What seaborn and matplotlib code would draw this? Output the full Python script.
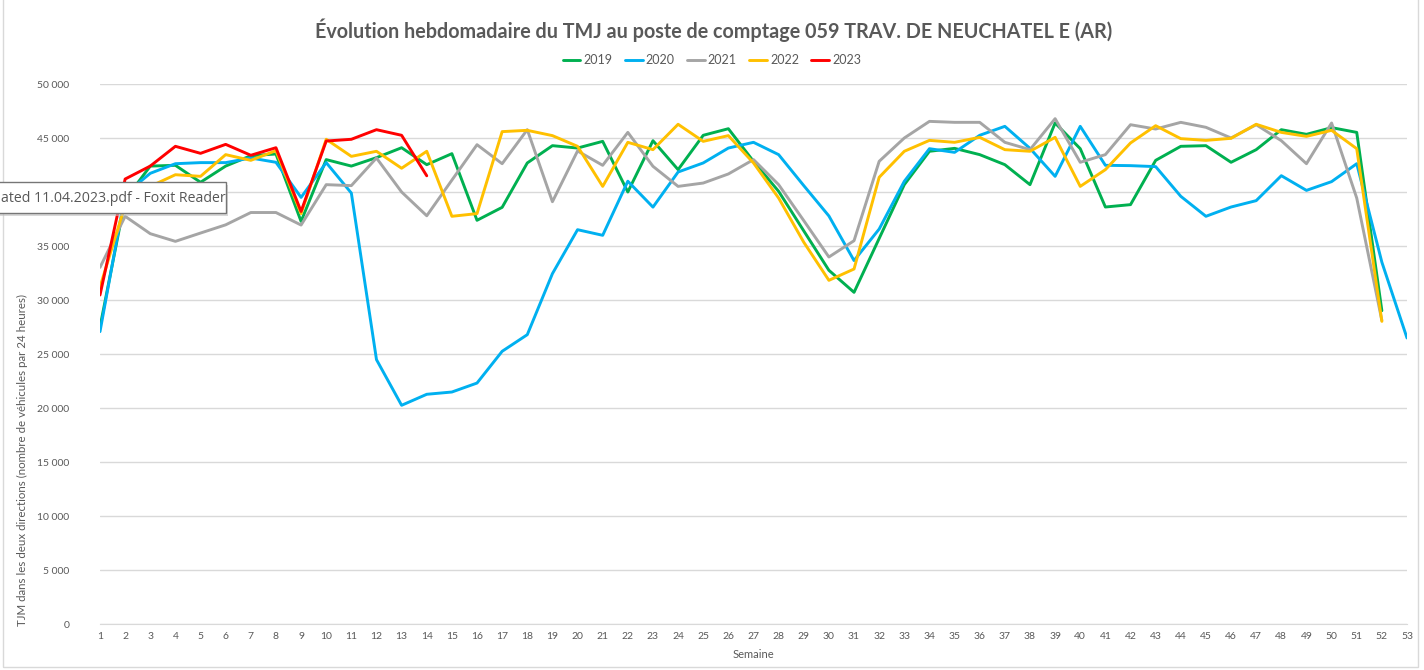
import matplotlib
matplotlib.use("Agg")
import matplotlib.pyplot as plt
from matplotlib.patches import Rectangle
from matplotlib.ticker import FuncFormatter, MultipleLocator
from matplotlib.lines import Line2D
import numpy as np, pandas as pd
import seaborn as sns

TITLE = "Évolution hebdomadaire du TMJ au poste de comptage 059 TRAV. DE NEUCHATEL E (AR)"
YLABEL = "TJM dans les deux directions (nombre de véhicules par 24 heures)"
XLABEL = "Semaine"

years = ["2019", "2020", "2021", "2022", "2023"]
colors = ["#00B050", "#00B0F0", "#A5A5A5", "#FFC000", "#FF0000"]

y2019 = [27500, 39300, 42400, 42470, 40900, 42400, 43360, 43520, 37280, 43000,
         42400, 43180, 44100, 42530, 43550, 37380, 38580, 42690, 44290, 44070,
         44690, 40000, 44750, 42070, 45250, 45860, 42840, 40060, 36400, 32750,
         30710, 35700, 40680, 43770, 44040, 43460, 42530, 40680, 46390, 44010,
         38610, 38830, 42930, 44230, 44290, 42750, 43920, 45770, 45340, 45960,
         45520, 29010]
y2020 = [27070, 39800, 41730, 42620, 42720, 42720, 43150, 42750, 39500, 42720,
         39900, 24480, 20250, 21270, 21480, 22310, 25250, 26790, 32440, 36510,
         35990, 41000, 38600, 41850, 42690, 44070, 44600, 43460, 40590, 37780,
         33650, 36570, 40990, 44010, 43670, 45250, 46080, 44040, 41450, 46080,
         42470, 42440, 42350, 39600, 37750, 38610, 39200, 41510, 40150, 40960,
         42620, 33500, 26480]
y2021 = [33020, 37750, 36140, 35430, 36200, 36960, 38100, 38100, 36940, 40680,
         40590, 43150, 40000, 37800, 41100, 44380, 42620, 45770, 39100, 43800,
         42470, 45520, 42380, 40520, 40830, 41670, 43000, 40680, 37350, 33980,
         35490, 42840, 45000, 46540, 46450, 46450, 44600, 43920, 46790, 42750,
         43460, 46230, 45830, 46450, 45990, 45000, 46230, 44750, 42620, 46390,
         39440, 28100]
y2022 = [31200, 38800, 40520, 41600, 41450, 43460, 42930, 43830, 38000, 44880,
         43300, 43770, 42200, 43770, 37750, 38000, 45590, 45710, 45220, 44230,
         40520, 44600, 43920, 46270, 44690, 45220, 42690, 39440, 35350, 31820,
         32870, 41360, 43770, 44780, 44600, 45060, 43920, 43770, 45060, 40520,
         42070, 44540, 46140, 44940, 44780, 44970, 46270, 45520, 45150, 45710,
         44010, 28020]
y2023 = [30460, 41200, 42400, 44230, 43580, 44410, 43400, 44100, 38200, 44720,
         44880, 45770, 45250, 41500]

series = {"2019": y2019, "2020": y2020, "2021": y2021, "2022": y2022, "2023": y2023}
rows = []
for yr, vals in series.items():
    for i, v in enumerate(vals):
        rows.append((yr, i + 1, v))
df = pd.DataFrame(rows, columns=["annee", "semaine", "tjm"])

sns.set_style("white")
plt.rcParams["font.family"] = ["Lato", "DejaVu Sans"]
GREY = "#595959"

fig = plt.figure(figsize=(14.24, 6.7), dpi=100)
W, H = 1424, 670
ax = fig.add_axes([100 / W, 1 - 624 / H, (1407 - 100) / W, (624 - 84) / H])

sns.lineplot(data=df, x="semaine", y="tjm", hue="annee", hue_order=years,
             palette=colors, linewidth=2.1, ax=ax, legend=False,
             estimator=None, sort=False)

ax.set_xlim(1, 53)
ax.set_ylim(0, 50000)
ax.set_xticks(range(1, 54))
ax.yaxis.set_major_locator(MultipleLocator(5000))
ax.yaxis.set_major_formatter(FuncFormatter(lambda v, p: f"{int(v):,}".replace(",", " ")))
ax.grid(axis="y", color="#D9D9D9", linewidth=1)
ax.set_axisbelow(True)
for s in ["top", "right", "left"]:
    ax.spines[s].set_visible(False)
ax.spines["bottom"].set_color("#D9D9D9")
ax.tick_params(axis="both", length=0, labelsize=7.5, labelcolor=GREY)
ax.tick_params(axis="x", pad=6)
ax.tick_params(axis="y", pad=22)
ax.set_xlabel("")
ax.set_ylabel("")

fig.text(753 / W, 1 - 655 / H, XLABEL, ha="center", va="center", fontsize=8, color=GREY)
fig.text(22 / W, 1 - 460 / H, YLABEL, ha="center", va="center", rotation=90,
         fontsize=8.3, color=GREY)
fig.text(714 / W, 1 - 30 / H, TITLE, ha="center", va="center", fontsize=14.2,
         fontweight="bold", color=GREY)

handles = [Line2D([0], [0], color=c, linewidth=2.1) for c in colors]
fig.legend(handles, years, loc="center", bbox_to_anchor=(712 / W, 1 - 60 / H),
           ncol=5, frameon=False, fontsize=9, handlelength=1.4, handletextpad=0.25,
           columnspacing=1.0, labelcolor=GREY)

# outer chart border
fig.patches.append(Rectangle((3 / W, 3 / H), (1418 - 3) / W, 1.2, transform=fig.transFigure,
                             fill=False, edgecolor="#D9D9D9", linewidth=1))

# tooltip overlay from the screenshot
fig.patches.append(Rectangle((-4 / W, 1 - 216 / H), 232 / W, 31 / H, transform=fig.transFigure,
                             facecolor="#BFBFBF", edgecolor="none", alpha=0.6, zorder=10))
fig.patches.append(Rectangle((-4 / W, 1 - 213 / H), 230 / W, 31 / H, transform=fig.transFigure,
                             facecolor="white", edgecolor="#767676", linewidth=1, zorder=11))
fig.text(1 / W, 1 - 198 / H, "ated 11.04.2023.pdf - Foxit Reader", ha="left", va="center",
         fontsize=10.2, color="#575757", zorder=12, family=["Open Sans", "DejaVu Sans"])

fig.savefig("out.png", dpi=100)
